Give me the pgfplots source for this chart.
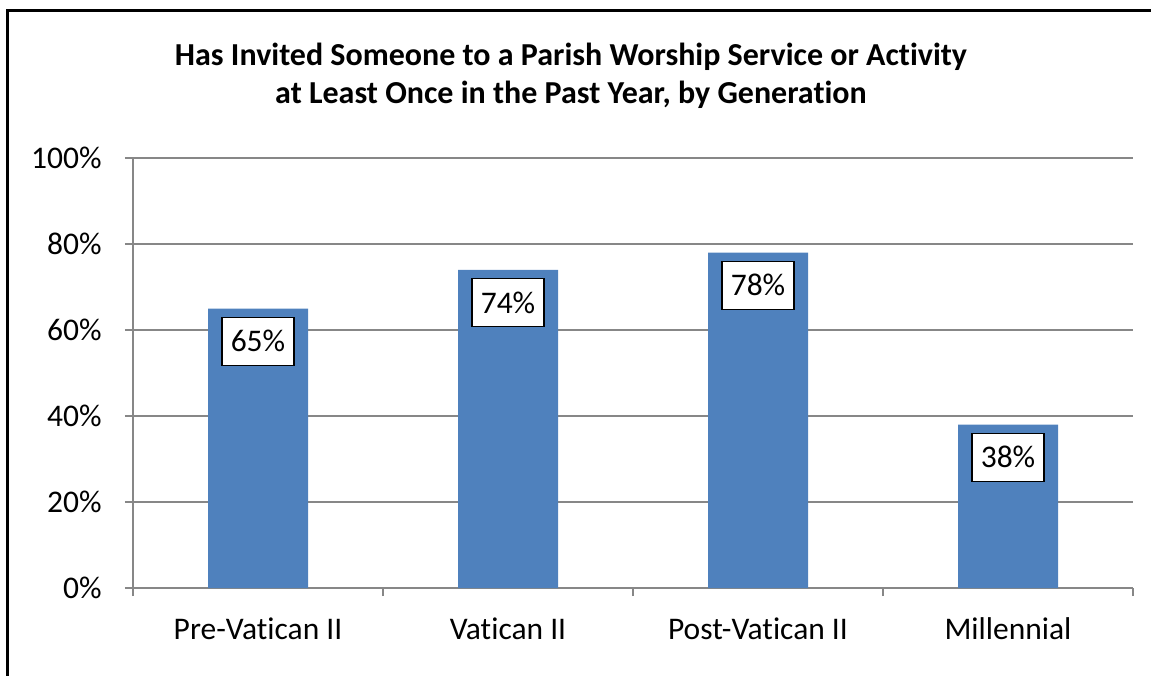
\documentclass[border=0pt]{standalone}
\usepackage{pgfplots}
\pgfplotsset{compat=1.18}
\usepackage{fontspec}
\setmainfont{Carlito}[Ligatures=NoCommon]
\definecolor{barblue}{HTML}{4F81BD}
\definecolor{gridgray}{HTML}{878787}
\begin{document}
% 1 px of the reference = 0.5pt, origin at the top left corner
\begin{tikzpicture}
\useasboundingbox (0,0) rectangle (575.5pt,-337.5pt);
\draw[line width=1.5pt] (3.5pt,-340pt) -- (3.5pt,-5pt) -- (580pt,-5pt);
\node[anchor=base,font=\fontsize{16}{19}\selectfont\bfseries] at (285.5pt,-32.5pt)
  {Has Invited Someone to a Parish Worship Service or Activity};
\node[anchor=base,font=\fontsize{16}{19}\selectfont\bfseries] at (285.5pt,-51.5pt)
  {at Least Once in the Past Year, by Generation};
\begin{axis}[
    at={(66.5pt,-294pt)}, anchor=south west,
    scale only axis, width=500pt, height=215pt,
    clip=false,
    ymin=0, ymax=100,
    xmin=-0.5, xmax=3.5,
    axis x line*=bottom, axis y line*=left,
    axis line style={gridgray, line width=0.75pt},
    ytick={0,20,40,60,80,100},
    yticklabels={0\%,20\%,40\%,60\%,80\%,100\%},
    xtick={0,1,2,3},
    xticklabels={Pre-Vatican II,Vatican II,Post-Vatican II,Millennial},
    minor xtick={-0.5,0.5,1.5,2.5,3.5},
    major x tick style={draw=none},
    tick style={gridgray, line width=0.75pt},
    tick align=outside,
    major tick length=4pt, minor tick length=4pt,
    ymajorgrids,
    major grid style={gridgray, line width=0.75pt},
    ticklabel style={font=\fontsize{15.75}{19}\selectfont, inner sep=0pt},
    yticklabel shift=11.5pt,
    xticklabel shift=10.5pt,
    ybar, bar width=50pt, bar shift=0pt,
    nodes near coords={\pgfmathprintnumber[assume math mode=true]{\pgfplotspointmeta}\%},
    every node near coord/.append style={
        anchor=north, yshift=-4pt, draw=black, fill=white, line width=0.75pt,
        inner xsep=4.5pt, inner ysep=0pt, minimum height=24pt,
        font=\fontsize{15.75}{19}\selectfont, text=black},
]
\addplot[fill=barblue, draw=none] coordinates {(0,65) (1,74) (2,78) (3,38)};
\end{axis}
\end{tikzpicture}
\end{document}
